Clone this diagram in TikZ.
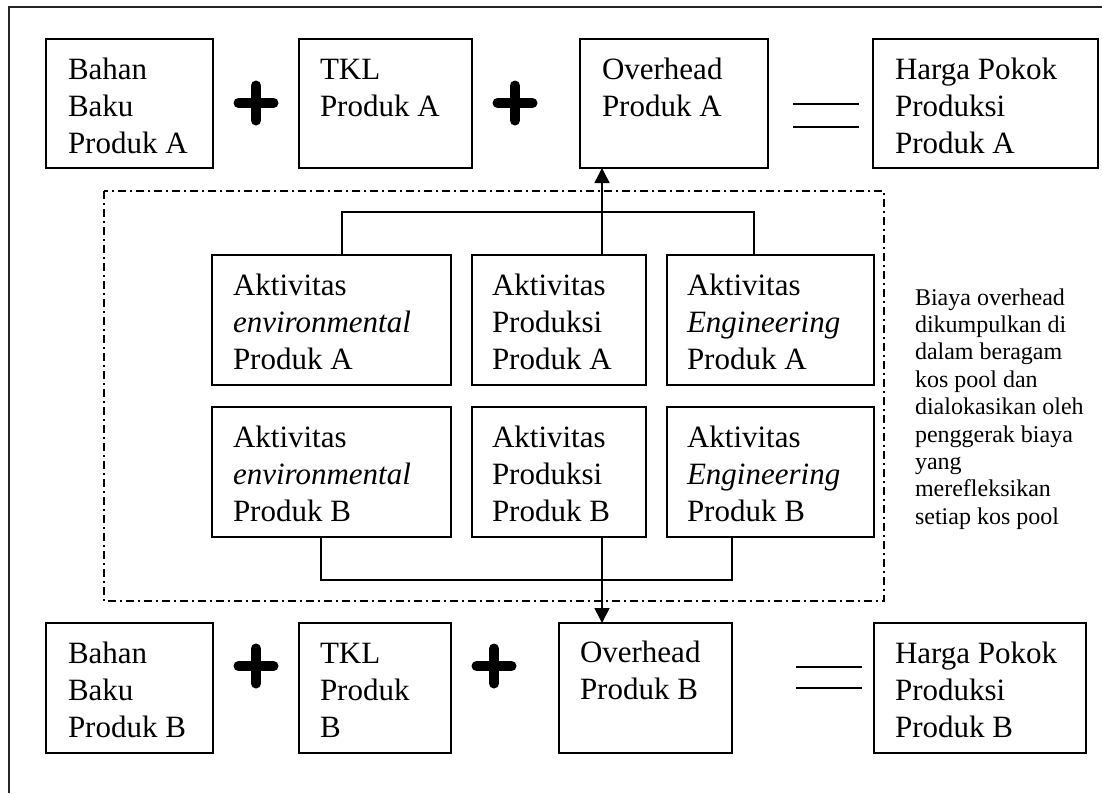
\documentclass[tikz,border=0pt]{standalone}
\usepackage{fontspec}
\setmainfont{Liberation Serif}
\usetikzlibrary{arrows.meta}
\tikzset{
  box/.style={draw, line width=1.5pt, inner sep=0pt, outer sep=0pt, anchor=north west},
  txt/.style={inner sep=0pt, outer sep=0pt, anchor=base west, font=\fontsize{31}{37}\selectfont},
  note/.style={inner sep=0pt, outer sep=0pt, anchor=base west, font=\fontsize{24}{27}\selectfont},
  conn/.style={line width=1.5pt},
  arr/.style={line width=1.5pt, -{Triangle[width=15pt,length=15pt]}},
  ddash/.style={line width=1.5pt, dash pattern=on 8pt off 4pt on 2pt off 4pt},
  plusbar/.style={line width=10pt, line cap=round},
  eqbar/.style={line width=1.5pt},
  frame/.style={line width=2pt, draw=black!85},
  plussign/.pic={\draw[plusbar] (-17.5,0) -- (17.5,0); \draw[plusbar] (0,-17.5) -- (0,17.5);}
}
\newcommand{\boxat}[5]{\node[box, minimum width=#4pt, minimum height=#5pt] (#1) at (#2,#3) {};}
\newcommand{\textlines}[6]{%
  \foreach \l [count=\i from 0] in {#6} {\node[#1] (#2-\i) at (#3,{#4+\i*#5}) {\l};}}
\begin{document}
\begin{tikzpicture}[x=1pt, y=-1pt]
\useasboundingbox (0,0) rectangle (1102,793);
% outer frame (top and left)
\draw[frame] (1102,7) -- (9,7) -- (9,793);

% top row
\boxat{ba}{46}{39}{167}{129}
\boxat{ta}{299}{39}{173}{129}
\boxat{oa}{580}{39}{188}{129}
\boxat{ha}{873}{39}{225}{129}
\textlines{txt}{tba}{68}{79}{37}{Bahan,Baku,Produk A}
\textlines{txt}{tta}{320}{79}{37}{TKL,Produk A}
\textlines{txt}{toa}{602}{79}{37}{Overhead,Produk A}
\textlines{txt}{tha}{895}{79}{37}{Harga Pokok,Produksi,Produk A}
\pic at (256,103) {plussign};
\pic at (515,103) {plussign};
\draw[eqbar] (793,104) -- (859,104);
\draw[eqbar] (793,127) -- (859,127);

% dash-dot frame
\draw[ddash] (104,191) rectangle (884,601);

% activity boxes
\boxat{ea}{212}{255}{239}{130}
\boxat{pa}{472}{255}{174}{130}
\boxat{ga}{667}{255}{207}{130}
\boxat{eb}{212}{407}{239}{130}
\boxat{pb}{472}{407}{174}{130}
\boxat{gb}{667}{407}{207}{130}
\textlines{txt}{tea}{233}{295}{37}{Aktivitas,{\itshape environmental},Produk A}
\textlines{txt}{tpa}{492}{295}{37}{Aktivitas,Produksi,Produk A}
\textlines{txt}{tga}{687}{295}{37}{Aktivitas,{\itshape Engineering},Produk A}
\textlines{txt}{teb}{233}{447}{37}{Aktivitas,{\itshape environmental},Produk B}
\textlines{txt}{tpb}{492}{447}{37}{Aktivitas,Produksi,Produk B}
\textlines{txt}{tgb}{687}{447}{37}{Aktivitas,{\itshape Engineering},Produk B}

% connectors
\draw[conn] ([xshift=10.5pt]ea.north) -- ++(0,-43) -| ([xshift=-16.5pt]ga.north);
\draw[arr] ([xshift=43pt]pa.north) -- ([xshift=43pt]pa.north |- oa.south);
\draw[conn] ([xshift=-10.5pt]eb.south) -- ++(0,43) -| ([xshift=-38.5pt]gb.south);

% bottom row
\boxat{bb}{46}{623}{167}{130}
\boxat{tb}{299}{623}{152}{130}
\boxat{ob}{559}{623}{173}{130}
\boxat{hb}{874}{623}{212}{130}
\draw[arr] ([xshift=43pt]pb.south) -- ([xshift=43pt]pb.south |- ob.north);
\textlines{txt}{tbb}{68}{663}{37}{Bahan,Baku,Produk B}
\textlines{txt}{ttb}{320}{663}{37}{TKL,Produk,B}
\textlines{txt}{tob}{580}{662}{37}{Overhead,Produk B}
\textlines{txt}{thb}{895}{663}{37}{Harga Pokok,Produksi,Produk B}
\pic at (256,666) {plussign};
\pic at (494,666) {plussign};
\draw[eqbar] (796,667) -- (862,667);
\draw[eqbar] (796,688) -- (862,688);

% side note (last line clipped as in the source)
\begin{scope}
\clip (900,280) rectangle (1102,529);
\textlines{note}{side}{915}{305}{27.4}{Biaya overhead,dikumpulkan di,dalam beragam,kos pool dan,dialokasikan oleh,penggerak biaya,yang,merefleksikan,setiap kos pool}
\end{scope}
\end{tikzpicture}
\end{document}
